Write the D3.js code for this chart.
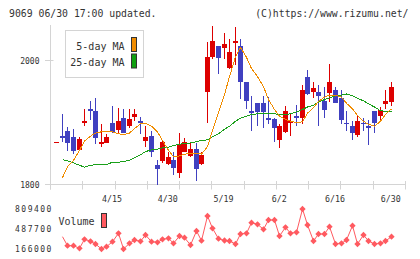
<!DOCTYPE html>
<html><head><meta charset="utf-8">
<script src="https://cdn.jsdelivr.net/npm/d3@7"></script>
<style>
html,body{margin:0;padding:0;background:#fff;}
svg{display:block;}
text{font-family:"DejaVu Sans Mono",monospace;fill:#333;}
</style></head>
<body>
<svg id="chart" width="420" height="259"></svg>
<script>
const dates = ["4/1","4/2","4/3","4/4","4/7","4/8","4/9","4/10","4/11","4/14",
"4/15","4/16","4/17","4/18","4/21","4/22","4/23","4/24","4/25","4/28",
"4/30","5/2","5/7","5/8","5/9","5/12","5/13","5/14","5/15","5/16",
"5/19","5/20","5/21","5/22","5/23","5/26","5/27","5/28","5/29","5/30",
"6/2","6/3","6/4","6/5","6/6","6/9","6/10","6/11","6/12","6/13",
"6/16","6/17","6/18","6/19","6/20","6/23","6/24","6/25","6/26","6/27","6/30"];
const open  = [1869,1878,1886,1877,1856,1899,1921,1918,1865,1868,
1900,1887,1908,1895,1909,1902,1869,1879,1832,1838,
1833,1839,1820,1853,1847,1858,1833,1949,2005,2023,
2020,1988,2028,2023,1965,1919,1932,1932,1908,1905,
1871,1884,1899,1910,1907,1973,1948,1950,1935,1947,
1952,1940,1899,1894,1879,1900,1895,1918,1911,1930,1934];
const high  = [1869,1913,1892,1889,1876,1921,1934,1939,1898,1882,
1927,1923,1922,1922,1922,1909,1895,1887,1840,1871,
1852,1853,1883,1875,1868,1867,1852,2030,2056,2023,
2044,2034,2054,2034,1965,1942,1932,1942,1941,1908,
1897,1926,1914,1929,1960,1985,1965,1961,1957,1994,
1957,1952,1918,1902,1912,1908,1904,1918,1925,1953,1966];
const low   = [1869,1868,1854,1850,1854,1894,1904,1866,1861,1867,
1883,1883,1883,1891,1902,1882,1861,1844,1800,1834,
1831,1815,1810,1852,1845,1806,1831,1900,2003,1978,
2003,1987,1992,1938,1921,1887,1895,1891,1897,1868,
1859,1883,1879,1895,1898,1944,1940,1895,1907,1933,
1931,1898,1887,1871,1876,1887,1863,1883,1904,1921,1926];
const close = [1869,1875,1867,1854,1873,1903,1917,1875,1868,1877,
1885,1902,1884,1906,1914,1898,1876,1853,1826,1868,
1845,1826,1866,1869,1858,1826,1848,2006,2031,2004,
2027,2013,2032,1965,1934,1916,1917,1918,1905,1891,
1894,1918,1902,1906,1952,1946,1955,1944,1921,1965,
1931,1905,1897,1883,1902,1898,1891,1899,1920,1935,1958];
const ma5 = [null,1811,1829,1839,1855,1870,1878,1883,1885,1886,
1885,1882,1880,1883,1890,1898,1899,1894,1885,1871,
1855,1845,1846,1849,1850,1850,1849,1861,1887,1916,
1945,1974,2006,2021,2005,1987,1974,1958,1937,1921,
1910,1905,1902,1900,1901,1915,1924,1934,1941,1944,
1944,1941,1931,1922,1911,1902,1897,1894,1902,1913,1922];
const ma25 = [null,1840,1838,1835,1831,1828,1831,1832,1832,1832,
1836,1836,1837,1839,1843,1848,1853,1856,1857,1859,
1860,1863,1865,1866,1867,1869,1871,1872,1877,1882,
1889,1894,1902,1907,1910,1913,1914,1914,1914,1914,
1913,1913,1914,1917,1921,1925,1928,1933,1937,1940,
1943,1944,1946,1943,1939,1935,1930,1925,1919,1918,1918];
const volume = [null,363800,219100,219100,177300,322000,289900,246400,166000,203000,
283400,418500,166000,257700,310800,289900,391200,283400,273800,322000,
338100,257700,375100,347800,230300,455500,299500,696800,499000,331700,
302700,294700,246400,407300,418500,589000,563300,482900,632500,632500,
375100,515000,418500,434600,809400,552000,294700,407300,407300,524700,
246400,257700,310800,540800,246400,391200,294700,246400,257700,294700,363800];
const priceTicks = [1800, 2000];
const volumeTicks = [166000, 487700, 809400];
const xLabels = ["4/15","4/30","5/19","6/2","6/16","6/30"];

const svg = d3.select("#chart");
const L = 50.5, R = 405.5, T = 25, B = 184.5;
const UP = "#dd0000", DOWN = "#4040c0", AXIS = "#d4d4d4";

const x = d3.scalePoint().domain(dates).range([56.3, 390.7]);
const y = d3.scaleLinear().domain([1800, 2000]).range([B, 60.5]);
const yv = d3.scaleLinear().domain([166000, 809400]).range([249, 209]);
const grid = d3.scaleLinear().domain([0, 11]).range([L, R]);

// header
svg.append("text").attr("x", 9).attr("y", 16.5).attr("font-size", 9.8).text("9069 06/30 17:00 updated.");
svg.append("text").attr("x", 408.5).attr("y", 16.5).attr("font-size", 9.8).attr("text-anchor", "end").text("(C)https://www.rizumu.net/");

// axes
svg.append("line").attr("x1", L).attr("x2", L).attr("y1", T).attr("y2", 189.5).attr("stroke", AXIS);
svg.append("line").attr("x1", 45).attr("x2", R).attr("y1", B).attr("y2", B).attr("stroke", AXIS);
svg.selectAll(".gt").data(d3.range(12)).enter().append("line")
  .attr("x1", d => Math.round(grid(d) - 0.5) + 0.5).attr("x2", d => Math.round(grid(d) - 0.5) + 0.5)
  .attr("y1", 181).attr("y2", 189.5).attr("stroke", AXIS);
svg.selectAll(".yt").data(priceTicks).enter().append("line")
  .attr("x1", 45).attr("x2", 53.5).attr("y1", d => y(d)).attr("y2", d => y(d)).attr("stroke", AXIS);
svg.selectAll(".yl").data(priceTicks).enter().append("text")
  .attr("x", 39.5).attr("y", d => y(d) + 3).attr("font-size", 8).attr("text-anchor", "end").text(d => d);
svg.selectAll(".xl").data(xLabels).enter().append("text")
  .attr("x", d => x(d)).attr("y", 201.5).attr("font-size", 8.3).attr("text-anchor", "middle").text(d => d);

// candles
const idx = d3.range(dates.length);
const cx = i => Math.round(x(dates[i]));
svg.selectAll(".wick").data(idx).enter().append("line")
  .attr("x1", i => cx(i) + 0.5).attr("x2", i => cx(i) + 0.5)
  .attr("y1", i => Math.round(y(high[i]))).attr("y2", i => Math.round(y(low[i])))
  .attr("stroke", i => close[i] >= open[i] ? UP : DOWN).attr("stroke-width", 1)
  .attr("shape-rendering", "crispEdges");
svg.selectAll(".body").data(idx).enter().append("rect")
  .attr("x", i => cx(i) - 2).attr("width", 5)
  .attr("y", i => Math.round(y(Math.max(open[i], close[i]))))
  .attr("height", i => Math.max(1, Math.round(Math.abs(y(open[i]) - y(close[i])))))
  .attr("fill", i => close[i] >= open[i] ? UP : DOWN)
  .attr("shape-rendering", "crispEdges");

// moving averages
const maLine = arr => d3.line().defined(i => arr[i] != null)
  .x(i => cx(i) + 0.5).y(i => y(arr[i]))(idx);
svg.append("path").attr("d", maLine(ma25)).attr("fill", "none").attr("stroke", "#1aa01a").attr("stroke-width", 1).attr("shape-rendering", "crispEdges");
svg.append("path").attr("d", maLine(ma5)).attr("fill", "none").attr("stroke", "#f08c00").attr("stroke-width", 1).attr("shape-rendering", "crispEdges");

// legend
svg.append("rect").attr("x", 65.5).attr("y", 30.5).attr("width", 78).attr("height", 47).attr("fill", "#fff").attr("stroke", AXIS);
const legend = [{t: "5-day MA", c: "#f08c00"}, {t: "25-day MA", c: "#10a010"}];
legend.forEach((d, k) => {
  svg.append("text").attr("x", 124.5).attr("y", 49.5 + k * 16.5).attr("font-size", 10).attr("text-anchor", "end").text(d.t);
  svg.append("rect").attr("x", 131.5).attr("y", 37.5 + k * 16.5).attr("width", 5).attr("height", 14).attr("fill", d.c).attr("stroke", "#333");
});

// volume panel
svg.selectAll(".vl").data(volumeTicks).enter().append("text")
  .attr("x", 15).attr("y", d => yv(d) + 3).attr("font-size", 8).attr("letter-spacing", 1.5).text(d => d);
const vIdx = idx.filter(i => volume[i] != null);
svg.append("path").attr("d", d3.line().x(i => cx(i) + 0.5).y(i => yv(volume[i]))(vIdx))
  .attr("fill", "none").attr("stroke", "#ff5a60").attr("stroke-width", 1);
svg.selectAll(".vm").data(vIdx.slice(1)).enter().append("path")
  .attr("d", d3.symbol(d3.symbolSquare, 20)())
  .attr("transform", i => `translate(${cx(i) + 0.5},${yv(volume[i])}) rotate(45)`)
  .attr("fill", "#ff5a60");
svg.append("text").attr("x", 58.5).attr("y", 225).attr("font-size", 10).text("Volume");
svg.append("rect").attr("x", 101.5).attr("y", 213.5).attr("width", 5).attr("height", 14).attr("fill", "#ff5a60").attr("stroke", "#333");
</script>
</body></html>
